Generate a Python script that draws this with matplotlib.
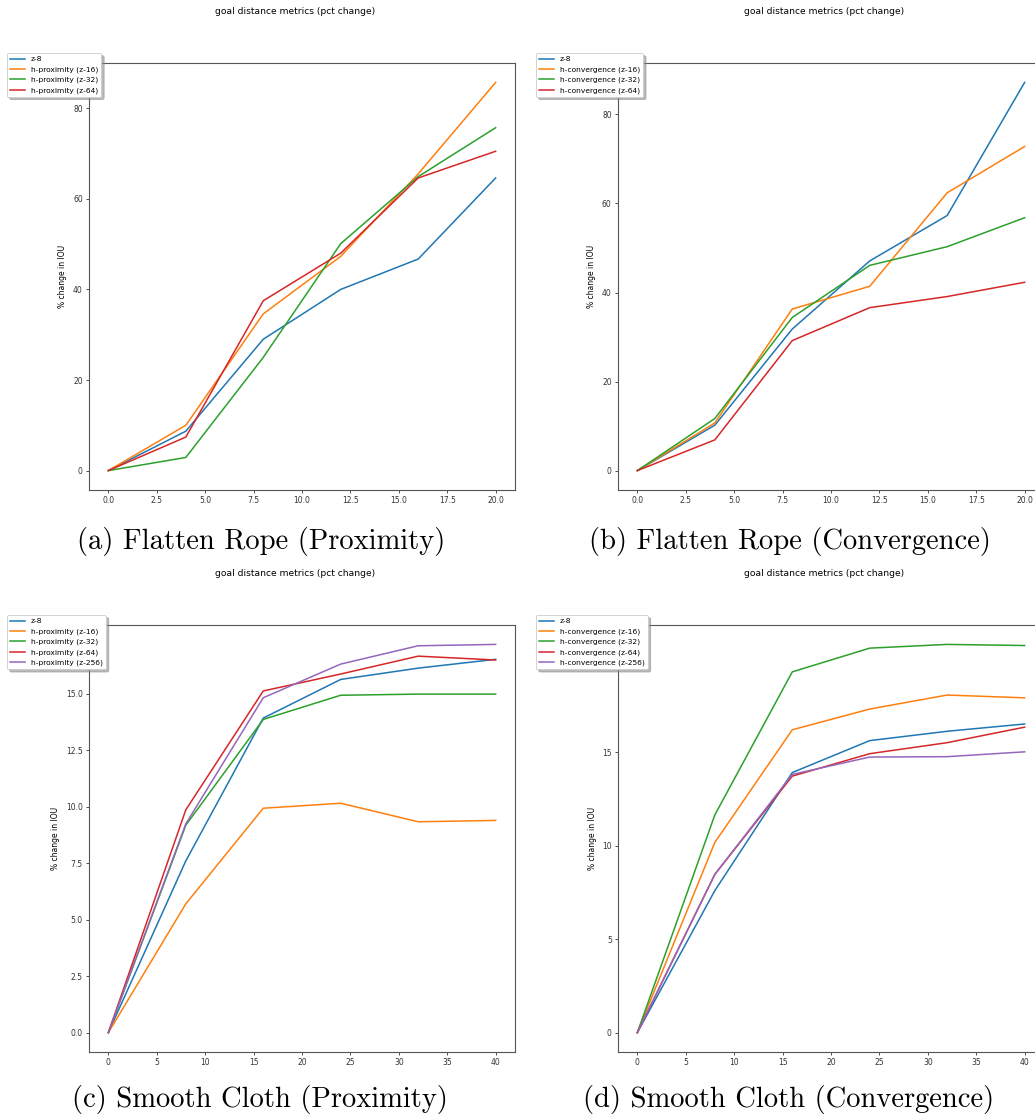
import matplotlib
matplotlib.use("Agg")
import matplotlib.pyplot as plt
from matplotlib.ticker import MultipleLocator

# rope runs: evaluation steps and % change in IOU per model
rope_steps = [0, 4, 8, 12, 16, 20]
rope_prox_labels = ["z-8", "h-proximity (z-16)", "h-proximity (z-32)",
                    "h-proximity (z-64)"]
rope_prox = [
    [0, 8.7, 29.0, 40.0, 46.7, 64.6],
    [0, 10.0, 34.6, 47.3, 65.5, 85.7],
    [0, 2.9, 25.0, 50.1, 64.9, 75.7],
    [0, 7.4, 37.5, 48.0, 64.6, 70.5],
]
rope_conv_labels = ["z-8", "h-convergence (z-16)", "h-convergence (z-32)",
                    "h-convergence (z-64)"]
rope_conv = [
    [0, 10.2, 31.8, 47.1, 57.3, 87.2],
    [0, 10.7, 36.3, 41.4, 62.4, 72.8],
    [0, 11.7, 34.4, 46.1, 50.3, 56.8],
    [0, 6.9, 29.2, 36.6, 39.1, 42.3],
]

# cloth runs
cloth_steps = [0, 8, 16, 24, 32, 40]
cloth_prox_labels = ["z-8", "h-proximity (z-16)", "h-proximity (z-32)",
                     "h-proximity (z-64)", "h-proximity (z-256)"]
cloth_prox = [
    [0, 7.6, 13.92, 15.63, 16.13, 16.52],
    [0, 5.70, 9.93, 10.15, 9.33, 9.39],
    [0, 9.18, 13.86, 14.93, 14.98, 14.98],
    [0, 9.86, 15.12, 15.87, 16.66, 16.49],
    [0, 9.24, 14.82, 16.31, 17.12, 17.18],
]
cloth_conv_labels = ["z-8", "h-convergence (z-16)", "h-convergence (z-32)",
                     "h-convergence (z-64)", "h-convergence (z-256)"]
cloth_conv = [
    [0, 7.6, 13.92, 15.63, 16.13, 16.52],
    [0, 10.18, 16.21, 17.32, 18.07, 17.92],
    [0, 11.65, 19.31, 20.58, 20.78, 20.72],
    [0, 8.47, 13.73, 14.93, 15.52, 16.35],
    [0, 8.47, 13.82, 14.75, 14.77, 15.03],
]

captions = ["(a) Flatten Rope (Proximity)", "(b) Flatten Rope (Convergence)",
            "(c) Smooth Cloth (Proximity)", "(d) Smooth Cloth (Convergence)"]

W, H = 1035, 1117
fig = plt.figure(figsize=(W / 100, H / 100), dpi=100)

def px_axes(left, top, width, height):
    return fig.add_axes([left / W, 1 - (top + height) / H, width / W, height / H])

panels = [
    # left, top, caption x, caption y, steps, series, labels, xstep, ystep
    (89, 63, 261, 541, rope_steps, rope_prox, rope_prox_labels, 2.5, 20),
    (618, 63, 790, 541, rope_steps, rope_conv, rope_conv_labels, 2.5, 20),
    (89, 625, 260, 1100, cloth_steps, cloth_prox, cloth_prox_labels, 5, 2.5),
    (618, 625, 789, 1100, cloth_steps, cloth_conv, cloth_conv_labels, 5, 5),
]

base = 5.5
for i, (left, top, cx, cy, steps, series, labels, xs, ys) in enumerate(panels):
    ax = px_axes(left, top, 426, 427)
    for vals, lab in zip(series, labels):
        ax.plot(steps, vals, label=lab, linewidth=1.1)
    ax.xaxis.set_major_locator(MultipleLocator(xs))
    ax.yaxis.set_major_locator(MultipleLocator(ys))
    ax.tick_params(labelsize=base, length=2.5, width=0.6, pad=2,
                   colors="#333333")
    for sp in ax.spines.values():
        sp.set_linewidth(0.8)
        sp.set_color("#555555")
    ax.set_ylabel("% change in IOU", fontsize=base, labelpad=4)
    leg = ax.legend(loc="upper left", bbox_to_anchor=(-0.1925, 1.0234),
                    borderaxespad=0, fontsize=5.4, framealpha=1,
                    shadow={"color": "0.55", "alpha": 0.6},
                    handlelength=2.0, labelspacing=0.5)
    leg.get_frame().set_linewidth(0.6)

    fig.text((left + 206) / W, 1 - 11 / H if top < 100 else 1 - 573 / H,
             "goal distance metrics (pct change)", fontsize=base * 1.2,
             ha="center", va="center")
    fig.text(cx / W, 1 - cy / H, captions[i], family="cmr10", fontsize=20.6,
             ha="center", va="center")

fig.savefig("out.png", dpi=100)
